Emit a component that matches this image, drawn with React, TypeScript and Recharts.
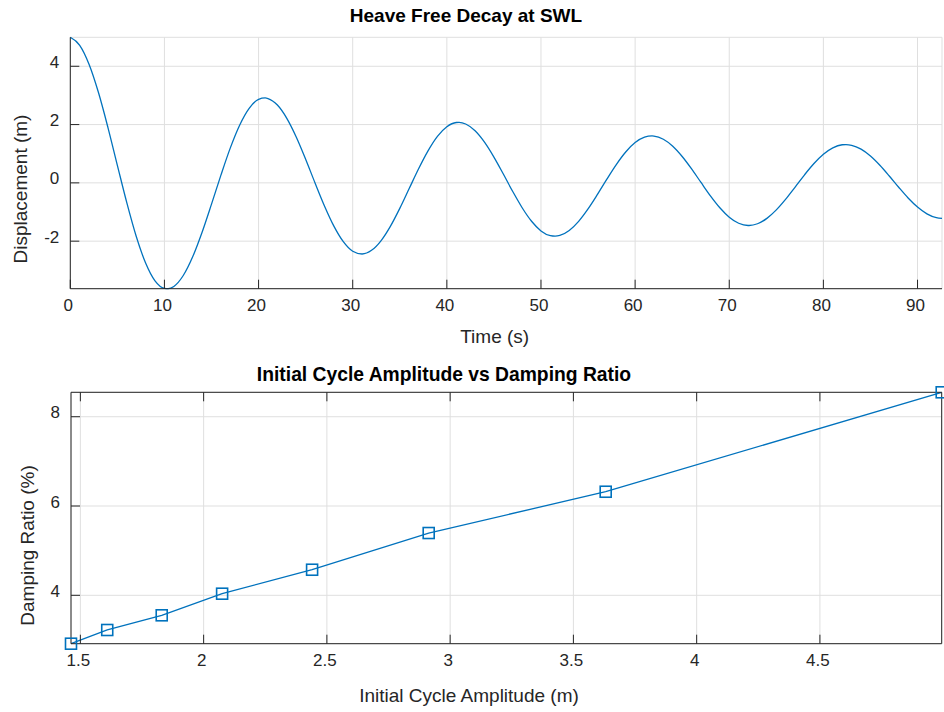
import React from 'react';
import { LineChart, Line, XAxis, YAxis, CartesianGrid } from 'recharts';

// ---------- Data: heave free decay time series ----------
const timeS = [
  0, 1, 2, 3, 4, 5, 6, 7, 8, 9, 10, 10.4,
  11, 12, 13, 14, 15, 16, 17, 18, 19, 20, 20.7,
  21, 22, 23, 24, 25, 26, 27, 28, 29, 30, 31,
  32, 33, 34, 35, 36, 37, 38, 39, 40, 41, 41.3,
  42, 43, 44, 45, 46, 47, 48, 49, 50, 51, 51.5,
  52, 53, 54, 55, 56, 57, 58, 59, 60, 61, 61.8,
  62, 63, 64, 65, 66, 67, 68, 69, 70, 71, 72, 72.1,
  73, 74, 75, 76, 77, 78, 79, 80, 81, 82, 82.4,
  83, 84, 85, 86, 87, 88, 89, 90, 91, 92, 92.6,
];
const displacementM = [
  4.994, 4.721, 4.063, 3.09, 1.898, 0.602, -0.679, -1.831, -2.75, -3.363, -3.62, -3.631,
  -3.553, -3.179, -2.538, -1.694, -0.73, 0.266, 1.201, 1.987, 2.558, 2.867, 2.913,
  2.894, 2.669, 2.213, 1.573, 0.81, -0.004, -0.792, -1.484, -2.016, -2.344, -2.44,
  -2.315, -1.987, -1.491, -0.874, -0.195, 0.484, 1.099, 1.597, 1.928, 2.071, 2.075,
  2.02, 1.787, 1.396, 0.884, 0.302, -0.296, -0.853, -1.318, -1.649, -1.813, -1.83,
  -1.804, -1.633, -1.319, -0.893, -0.396, 0.128, 0.627, 1.058, 1.381, 1.568, 1.609,
  1.605, 1.497, 1.256, 0.904, 0.478, 0.013, -0.445, -0.854, -1.177, -1.386, -1.462, -1.462,
  -1.403, -1.218, -0.927, -0.558, -0.143, 0.277, 0.663, 0.981, 1.202, 1.307, 1.314,
  1.29, 1.157, 0.921, 0.604, 0.236, -0.15, -0.517, -0.83, -1.064, -1.195, -1.219,
];
const timeTicks = [0, 10, 20, 30, 40, 50, 60, 70, 80, 90];
const dispTicks = [-2, 0, 2, 4];
const timeDomain = [0, 92.6];
const dispDomain = [-3.631, 4.994];

// ---------- Data: initial cycle amplitude vs damping ratio ----------
const amplitudeM = [4.994, 3.631, 2.913, 2.44, 2.075, 1.83, 1.609, 1.462];
const dampingPct = [8.547, 6.32, 5.395, 4.573, 4.036, 3.552, 3.223, 2.916];
const ampTicks = [1.5, 2, 2.5, 3, 3.5, 4, 4.5];
const dampTicks = [4, 6, 8];
const ampDomain = [1.462, 4.994];
const dampDomain = [2.916, 8.547];

const decayData = timeS.map((t, i) => ({ t, y: displacementM[i] }));
const dampData = amplitudeM.map((a, i) => ({ a, z: dampingPct[i] }));

// ---------- Styling ----------
const FONT = '"Liberation Sans", Arial, Helvetica, sans-serif';
const AXC = '#262626';
const GRID = '#dfdfdf';
const BLUE = '#0072BD';
const TL = 9;
const YMARGIN = 11;

const fmt = (v: number) => (v < 0 ? '-' + String(Math.abs(v)) : String(v));

const LeftTick = (props: any) => {
  const { x, y, payload } = props;
  const ax = x + YMARGIN;
  return (
    <g>
      <line x1={ax} x2={ax + TL} y1={y} y2={y} stroke={AXC} strokeWidth={1} />
      <text x={x} y={y + 1.5} textAnchor="end" fontSize={17} fontFamily={FONT} fill={AXC}>
        {fmt(payload.value)}
      </text>
    </g>
  );
};

const BottomTick = (props: any) => {
  const { x, y, payload } = props;
  return (
    <g>
      <line x1={x} x2={x} y1={y} y2={y - TL} stroke={AXC} strokeWidth={1} />
      <text x={x - 2} y={y + 22} textAnchor="middle" fontSize={17} fontFamily={FONT} fill={AXC}>
        {fmt(payload.value)}
      </text>
    </g>
  );
};

const TopTick = (props: any) => {
  const { x, y } = props;
  return <line x1={x} x2={x} y1={y} y2={y + TL} stroke={AXC} strokeWidth={1} />;
};

const RightTick = (props: any) => {
  const { x, y } = props;
  return <line x1={x} x2={x - TL} y1={y} y2={y} stroke={AXC} strokeWidth={1} />;
};

const SquareDot = (p: any) => {
  if (p.cx == null || p.cy == null) return null;
  return (
    <rect
      key={p.key ?? `${p.cx}-${p.cy}`}
      x={p.cx - 5.5}
      y={p.cy - 5.5}
      width={11}
      height={11}
      fill="none"
      stroke={BLUE}
      strokeWidth={1.6}
    />
  );
};

const axisLine = { stroke: AXC, strokeWidth: 1 };

export default function App() {
  return (
    <div style={{ position: 'absolute', left: 0, top: 0, width: 944, height: 712, background: '#fff' }}>
      <div style={{ position: 'absolute', left: 0, top: 0 }}>
        <LineChart width={944} height={356} data={decayData} margin={{ top: 37.3, right: 2, left: 0, bottom: 0 }}>
          <CartesianGrid stroke={GRID} strokeWidth={1} />
          <XAxis
            dataKey="t"
            type="number"
            domain={timeDomain}
            ticks={timeTicks}
            interval={0}
            height={67.3}
            tickSize={0}
            tickMargin={0}
            tickLine={false}
            axisLine={axisLine}
            tick={<BottomTick />}
          />
          <YAxis
            type="number"
            domain={dispDomain}
            ticks={dispTicks}
            interval={0}
            width={70.3}
            tickSize={0}
            tickMargin={YMARGIN}
            tickLine={false}
            axisLine={axisLine}
            tick={<LeftTick />}
          />
          <Line
            dataKey="y"
            type="monotone"
            stroke={BLUE}
            strokeWidth={1.3}
            dot={false}
            isAnimationActive={false}
          />
        </LineChart>
      </div>
      <div style={{ position: 'absolute', left: 0, top: 356 }}>
        <LineChart width={944} height={356} data={dampData} margin={{ top: 35.3, right: 1.3, left: 0, bottom: 0 }}>
          <CartesianGrid stroke={GRID} strokeWidth={1} />
          <XAxis
            dataKey="a"
            type="number"
            domain={ampDomain}
            ticks={ampTicks}
            interval={0}
            height={68.3}
            tickSize={0}
            tickMargin={0}
            tickLine={false}
            axisLine={axisLine}
            tick={<BottomTick />}
          />
          <XAxis
            xAxisId="top"
            orientation="top"
            dataKey="a"
            type="number"
            domain={ampDomain}
            ticks={ampTicks}
            interval={0}
            height={1}
            tickSize={0}
            tickMargin={0}
            tickLine={false}
            axisLine={axisLine}
            tick={<TopTick />}
          />
          <YAxis
            type="number"
            domain={dampDomain}
            ticks={dampTicks}
            interval={0}
            width={71}
            tickSize={0}
            tickMargin={YMARGIN}
            tickLine={false}
            axisLine={axisLine}
            tick={<LeftTick />}
          />
          <YAxis
            yAxisId="right"
            orientation="right"
            type="number"
            domain={dampDomain}
            ticks={dampTicks}
            interval={0}
            width={1}
            tickSize={0}
            tickMargin={0}
            tickLine={false}
            axisLine={axisLine}
            tick={<RightTick />}
          />
          <Line
            dataKey="z"
            type="linear"
            stroke={BLUE}
            strokeWidth={1.3}
            dot={<SquareDot />}
            isAnimationActive={false}
          />
        </LineChart>
      </div>
      <svg
        width={944}
        height={712}
        style={{ position: 'absolute', left: 0, top: 0, pointerEvents: 'none' }}
        fontFamily={FONT}
      >
        <text x={466} y={21.5} textAnchor="middle" fontSize={19} fontWeight="bold" fill="#000">
          Heave Free Decay at SWL
        </text>
        <text x={494.7} y={342.7} textAnchor="middle" fontSize={19} fill={AXC}>
          Time (s)
        </text>
        <text x={26.5} y={189} textAnchor="middle" fontSize={19} fill={AXC} transform="rotate(-90 26.5 189)">
          Displacement (m)
        </text>
        <text x={444} y={381} textAnchor="middle" fontSize={19.3} fontWeight="bold" fill="#000">
          Initial Cycle Amplitude vs Damping Ratio
        </text>
        <text x={469} y={702} textAnchor="middle" fontSize={19} fill={AXC}>
          Initial Cycle Amplitude (m)
        </text>
        <text x={34.3} y={545.5} textAnchor="middle" fontSize={19} fill={AXC} transform="rotate(-90 34.3 545.5)">
          Damping Ratio (%)
        </text>
      </svg>
    </div>
  );
}
